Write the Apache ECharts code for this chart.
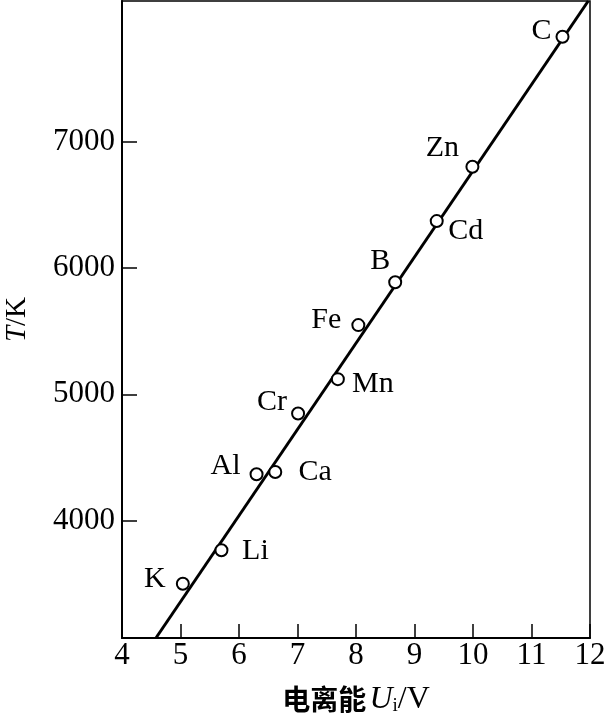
<!DOCTYPE html>
<html>
<head>
<meta charset="utf-8">
<script src="https://cdn.jsdelivr.net/npm/echarts@6/dist/echarts.min.js"></script>
<style>html,body{margin:0;padding:0;background:#fff;}#c{width:607px;height:719px;}</style>
</head>
<body>
<div id="c"></div>
<script>
// Data
const elements = ['K', 'Li', 'Al', 'Ca', 'Cr', 'Mn', 'Fe', 'B', 'Cd', 'Zn', 'C'];
const ionEnergy = [5.04, 5.70, 6.30, 6.62, 7.01, 7.69, 8.04, 8.67, 9.38, 9.99, 11.53];
const temperature = [3500, 3765, 4367, 4385, 4848, 5120, 5548, 5888, 6372, 6802, 7832];
const fitLineX = [4.58, 11.97];
const fitLineY = [3070, 8115];
const yTickValues = [4000, 5000, 6000, 7000];
const xTickValues = [4, 5, 6, 7, 8, 9, 10, 11, 12];

// label offsets (style only)
const labelOffsets = {
  K: [-28, -5], Li: [34, 1], Al: [-31, -8], Ca: [40, 0], Cr: [-26, -11],
  Mn: [35, 5], Fe: [-32, -5], B: [-15, -21], Cd: [29, 10], Zn: [-30, -19], C: [-21, -6]
};

const serif = '"Liberation Serif", "Times New Roman", serif';
const chart = echarts.init(document.getElementById('c'), null, {renderer: 'canvas'});

const scatterData = elements.map((name, i) => ({
  value: [ionEnergy[i], temperature[i]],
  name: name,
  label: {
    show: true,
    formatter: name,
    position: 'inside',
    offset: labelOffsets[name],
    align: 'center',
    verticalAlign: 'middle',
    fontFamily: serif,
    fontSize: 30,
    color: '#000'
  }
}));

chart.setOption({
  animation: false,
  backgroundColor: '#fff',
  grid: {
    left: 122, right: 17, top: 1, bottom: 81,
    containLabel: false, outerBoundsMode: 'none',
    show: true, borderColor: '#000', borderWidth: 1.5, backgroundColor: 'transparent'
  },
  xAxis: {
    type: 'value', min: 4, max: 12, interval: 1,
    axisLine: {show: true, onZero: false, lineStyle: {color: '#000', width: 2}},
    axisTick: {show: true, inside: true, length: 14, lineStyle: {color: '#000', width: 1.5}, customValues: xTickValues},
    axisLabel: {fontFamily: serif, fontSize: 31, color: '#000', margin: 2, customValues: xTickValues,
      formatter: v => String(v)},
    splitLine: {show: false},
    name: '{cn|电离能} {it|U}{sub|i}{n|/V}',
    nameLocation: 'middle',
    nameGap: 45,
    nameTextStyle: {
      rich: {
        cn: {fontFamily: '"Noto Sans CJK SC"', fontSize: 28, color: '#000', fontWeight: 'bold'},
        it: {fontFamily: serif, fontSize: 32, fontStyle: 'italic', color: '#000'},
        sub: {fontFamily: serif, fontSize: 19, color: '#000', padding: [14, 0, 0, 0]},
        n: {fontFamily: serif, fontSize: 32, color: '#000'}
      }
    }
  },
  yAxis: {
    type: 'value', min: 3070, max: 8115,
    axisLine: {show: true, onZero: false, lineStyle: {color: '#000', width: 2}},
    axisTick: {show: true, inside: true, length: 15, lineStyle: {color: '#000', width: 1.5}, customValues: yTickValues},
    axisLabel: {fontFamily: serif, fontSize: 31, color: '#000', margin: 7, customValues: yTickValues,
      formatter: v => String(v)},
    splitLine: {show: false},
    name: '{it|T}{n|/K}',
    nameLocation: 'middle',
    nameRotate: 90,
    nameGap: 90,
    nameTextStyle: {
      rich: {
        it: {fontFamily: serif, fontSize: 29, fontStyle: 'italic', color: '#000'},
        n: {fontFamily: serif, fontSize: 29, color: '#000'}
      }
    }
  },
  series: [
    {
      type: 'line',
      data: fitLineX.map((x, i) => [x, fitLineY[i]]),
      showSymbol: false,
      symbol: 'none',
      lineStyle: {color: '#000', width: 3},
      clip: true,
      z: 2
    },
    {
      type: 'scatter',
      data: scatterData,
      symbol: 'circle',
      symbolSize: 12,
      itemStyle: {color: '#fff', borderColor: '#000', borderWidth: 2, opacity: 1},
      z: 3
    }
  ]
});
</script>
</body>
</html>
